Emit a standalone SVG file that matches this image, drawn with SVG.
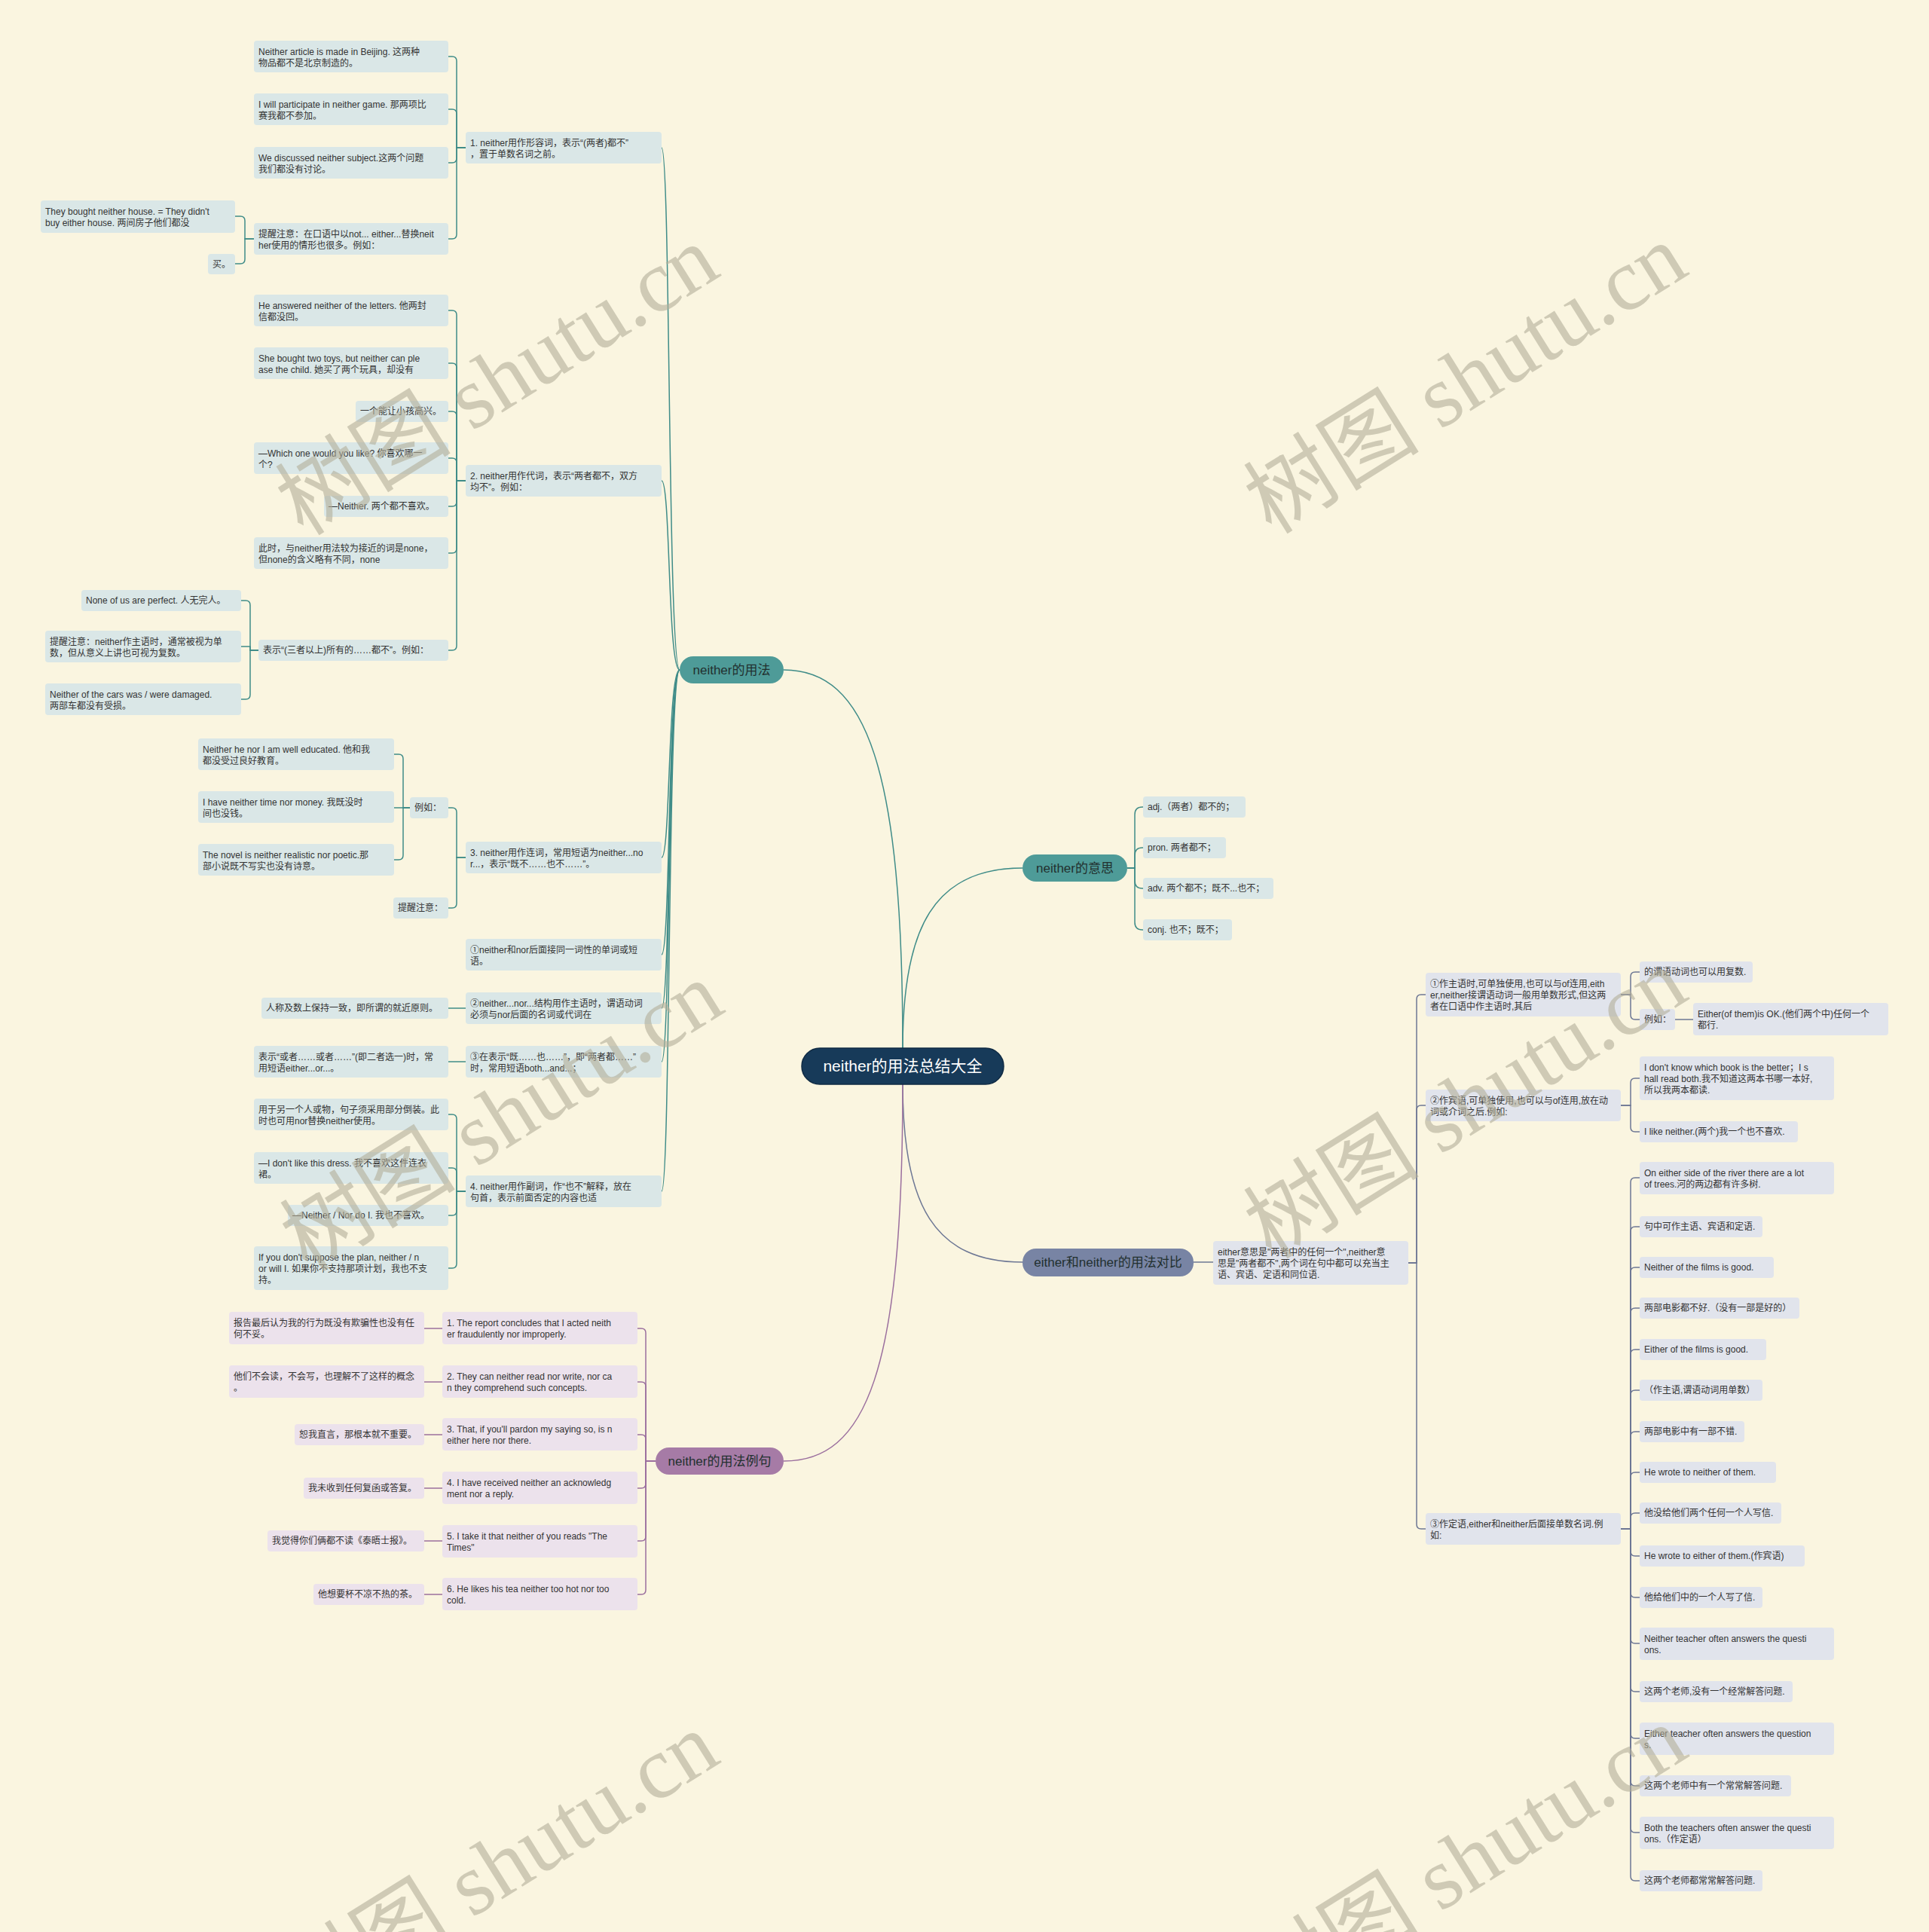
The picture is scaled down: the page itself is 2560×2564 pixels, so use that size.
<svg xmlns="http://www.w3.org/2000/svg" width="2560" height="2564" viewBox="0 0 2560 2564">
<style>
text { font-family: "Liberation Sans", "Noto Sans CJK SC", sans-serif; }
.t { font-size: 12px; fill: #333333; }
.bt { font-size: 17px; fill: #22302f; text-anchor: middle; }
.ct { font-size: 21px; fill: #ffffff; text-anchor: middle; }
.lt { fill: #dae7e7; }
.lp { fill: #ece2ec; }
.ls { fill: #e1e4ec; }
.e { fill: none; stroke-width: 1.5; }
.et { stroke: #3f8c88; }
.ep { stroke: #9b6f9e; }
.es { stroke: #6d7794; }
.wm { font-family: "Liberation Serif", "Noto Sans CJK SC", serif; font-size: 117px; fill: #b3af9a; opacity: 0.6; text-anchor: middle; dominant-baseline: central; }
</style>
<rect x="0" y="0" width="2560" height="2564" fill="#faf5e0"/>

<g id="connectors">
<path class="e et" d="M1198 1391 C1198 1020 1150 889 1040 889"/>
<path class="e et" d="M1198 1391 C1198 1230 1240 1152 1357 1152"/>
<path class="e es" d="M1198 1439 C1198 1600 1240 1675 1357 1675"/>
<path class="e ep" d="M1198 1439 C1198 1820 1150 1939 1040 1939"/>

<path class="e et" d="M902 889 C886 889 890 196 878 196"/>
<path class="e et" d="M902 889 C886 889 890 638 878 638"/>
<path class="e et" d="M902 889 C886 889 890 1138 878 1138"/>
<path class="e et" d="M902 889 C886 889 890 1267 878 1267"/>
<path class="e et" d="M902 889 C886 889 890 1338 878 1338"/>
<path class="e et" d="M902 889 C886 889 890 1409 878 1409"/>
<path class="e et" d="M902 889 C886 889 890 1581 878 1581"/>

<path class="e et" d="M618 196 H606 V81 Q606 75 600 75 H595"/>
<path class="e et" d="M618 196 H606 V151 Q606 145 600 145 H595"/>
<path class="e et" d="M618 196 H606 V210 Q606 216 600 216 H595"/>
<path class="e et" d="M618 196 H606 V311 Q606 317 600 317 H595"/>
<path class="e et" d="M337 317 H325 V293 Q325 287 319 287 H312"/>
<path class="e et" d="M337 317 H325 V344 Q325 350 319 350 H312"/>

<path class="e et" d="M618 638 H606 V418 Q606 412 600 412 H595"/>
<path class="e et" d="M618 638 H606 V488 Q606 482 600 482 H595"/>
<path class="e et" d="M618 638 H606 V552 Q606 546 600 546 H595"/>
<path class="e et" d="M618 638 H606 V614 Q606 608 600 608 H595"/>
<path class="e et" d="M618 638 H606 V666 Q606 672 600 672 H595"/>
<path class="e et" d="M618 638 H606 V728 Q606 734 600 734 H595"/>
<path class="e et" d="M618 638 H606 V857 Q606 863 600 863 H595"/>
<path class="e et" d="M343 863 H332 V803 Q332 797 326 797 H320"/>
<path class="e et" d="M343 863 H332 V858 H320"/>
<path class="e et" d="M343 863 H332 V922 Q332 928 326 928 H320"/>

<path class="e et" d="M618 1138 H606 V1078 Q606 1072 600 1072 H595"/>
<path class="e et" d="M618 1138 H606 V1199 Q606 1205 600 1205 H595"/>
<path class="e et" d="M544 1072 H535 V1007 Q535 1001 529 1001 H523"/>
<path class="e et" d="M544 1072 H523"/>
<path class="e et" d="M544 1072 H535 V1135 Q535 1141 529 1141 H523"/>

<path class="e et" d="M618 1338 H595"/>
<path class="e et" d="M618 1409 H595"/>

<path class="e et" d="M618 1581 H606 V1485 Q606 1479 600 1479 H595"/>
<path class="e et" d="M618 1581 H606 V1556 Q606 1550 600 1550 H595"/>
<path class="e et" d="M618 1581 H606 V1607 Q606 1613 600 1613 H595"/>
<path class="e et" d="M618 1581 H606 V1677 Q606 1683 600 1683 H595"/>

<path class="e et" d="M1496 1152 H1506 V1081 Q1506 1071 1516 1071 H1517"/>
<path class="e et" d="M1496 1152 H1506 V1135 Q1506 1125 1516 1125 H1517"/>
<path class="e et" d="M1496 1152 H1506 V1169 Q1506 1179 1516 1179 H1517"/>
<path class="e et" d="M1496 1152 H1506 V1224 Q1506 1234 1516 1234 H1517"/>

<path class="e es" d="M1584 1675 H1610"/>
<path class="e es" d="M1869 1676 H1880 V1326 Q1880 1320 1886 1320 H1892"/>
<path class="e es" d="M1869 1676 H1880 V1473 Q1880 1467 1886 1467 H1892"/>
<path class="e es" d="M1869 1676 H1880 V2023 Q1880 2029 1886 2029 H1892"/>
<path class="e es" d="M2151 1320 H2164 V1296 Q2164 1290 2170 1290 H2176"/>
<path class="e es" d="M2151 1320 H2164 V1347 Q2164 1353 2170 1353 H2176"/>
<path class="e es" d="M2223 1353 H2247"/>
<path class="e es" d="M2151 1467 H2164 V1437 Q2164 1431 2170 1431 H2176"/>
<path class="e es" d="M2151 1467 H2164 V1496 Q2164 1502 2170 1502 H2176"/>
<path class="e es" d="M2151 2029 H2164 V1569 Q2164 1563 2170 1563 H2176"/>
<path class="e es" d="M2151 2029 H2164 V1634 Q2164 1628 2170 1628 H2176"/>
<path class="e es" d="M2151 2029 H2164 V1688 Q2164 1682 2170 1682 H2176"/>
<path class="e es" d="M2151 2029 H2164 V1742 Q2164 1736 2170 1736 H2176"/>
<path class="e es" d="M2151 2029 H2164 V1797 Q2164 1791 2170 1791 H2176"/>
<path class="e es" d="M2151 2029 H2164 V1851 Q2164 1845 2170 1845 H2176"/>
<path class="e es" d="M2151 2029 H2164 V1906 Q2164 1900 2170 1900 H2176"/>
<path class="e es" d="M2151 2029 H2164 V1960 Q2164 1954 2170 1954 H2176"/>
<path class="e es" d="M2151 2029 H2164 V2014 Q2164 2008 2170 2008 H2176"/>
<path class="e es" d="M2151 2029 H2164 V2059 Q2164 2065 2170 2065 H2176"/>
<path class="e es" d="M2151 2029 H2164 V2114 Q2164 2120 2170 2120 H2176"/>
<path class="e es" d="M2151 2029 H2164 V2175 Q2164 2181 2170 2181 H2176"/>
<path class="e es" d="M2151 2029 H2164 V2239 Q2164 2245 2170 2245 H2176"/>
<path class="e es" d="M2151 2029 H2164 V2301 Q2164 2307 2170 2307 H2176"/>
<path class="e es" d="M2151 2029 H2164 V2364 Q2164 2370 2170 2370 H2176"/>
<path class="e es" d="M2151 2029 H2164 V2426 Q2164 2432 2170 2432 H2176"/>
<path class="e es" d="M2151 2029 H2164 V2490 Q2164 2496 2170 2496 H2176"/>

<path class="e ep" d="M870 1939 H857 V1769 Q857 1763 851 1763 H846"/>
<path class="e ep" d="M870 1939 H857 V1840 Q857 1834 851 1834 H846"/>
<path class="e ep" d="M870 1939 H857 V1910 Q857 1904 851 1904 H846"/>
<path class="e ep" d="M870 1939 H857 V1969 Q857 1975 851 1975 H846"/>
<path class="e ep" d="M870 1939 H857 V2039 Q857 2045 851 2045 H846"/>
<path class="e ep" d="M870 1939 H857 V2110 Q857 2116 851 2116 H846"/>
<path class="e ep" d="M587 1763 H563"/>
<path class="e ep" d="M587 1834 H563"/>
<path class="e ep" d="M587 1904 H563"/>
<path class="e ep" d="M587 1975 H563"/>
<path class="e ep" d="M587 2045 H563"/>
<path class="e ep" d="M587 2116 H563"/>
</g>

<g id="root"><rect x="1064" y="1391" width="268" height="48" rx="24" fill="#173a59" stroke="#0f2a43" stroke-width="1.5"/><text class="ct" x="1198" y="1422">neither的用法总结大全</text></g>

<g id="b-usage"><rect x="902" y="871" width="138" height="36" rx="18" fill="#4e9b98"/><text class="bt" x="971" y="895">neither的用法</text></g>
<g id="b-meaning"><rect x="1357" y="1134" width="139" height="36" rx="18" fill="#4e9b98"/><text class="bt" x="1426.5" y="1158">neither的意思</text></g>
<g id="b-compare"><rect x="1357" y="1657" width="227" height="37" rx="18" fill="#7884a4"/><text class="bt" x="1470.5" y="1681">either和neither的用法对比</text></g>
<g id="b-examples"><rect x="870" y="1921" width="170" height="36" rx="18" fill="#a67ba6"/><text class="bt" x="955" y="1945">neither的用法例句</text></g>

<g id="a1"><rect class="lt" x="618" y="175" width="260" height="42" rx="4"/><text class="t" x="624" y="194">1. neither用作形容词，表示“(两者)都不”</text><text class="t" x="624" y="209">，置于单数名词之前。</text></g>
<g id="a1-1"><rect class="lt" x="337" y="54" width="258" height="42" rx="4"/><text class="t" x="343" y="73">Neither article is made in Beijing. 这两种</text><text class="t" x="343" y="88">物品都不是北京制造的。</text></g>
<g id="a1-2"><rect class="lt" x="337" y="124" width="258" height="42" rx="4"/><text class="t" x="343" y="143">I will participate in neither game. 那两项比</text><text class="t" x="343" y="158">赛我都不参加。</text></g>
<g id="a1-3"><rect class="lt" x="337" y="195" width="258" height="42" rx="4"/><text class="t" x="343" y="214">We discussed neither subject.这两个问题</text><text class="t" x="343" y="229">我们都没有讨论。</text></g>
<g id="a1-4"><rect class="lt" x="337" y="296" width="258" height="42" rx="4"/><text class="t" x="343" y="315">提醒注意：在口语中以not... either...替换neit</text><text class="t" x="343" y="330">her使用的情形也很多。例如：</text></g>
<g id="a1-4a"><rect class="lt" x="54" y="266" width="258" height="43" rx="4"/><text class="t" x="60" y="285">They bought neither house. = They didn't</text><text class="t" x="60" y="300"> buy either house. 两间房子他们都没</text></g>
<g id="a1-4b"><rect class="lt" x="276" y="337" width="36" height="27" rx="4"/><text class="t" x="282" y="355">买。</text></g>

<g id="a2"><rect class="lt" x="618" y="617" width="260" height="42" rx="4"/><text class="t" x="624" y="636">2. neither用作代词，表示“两者都不，双方</text><text class="t" x="624" y="651">均不”。例如：</text></g>
<g id="a2-1"><rect class="lt" x="337" y="391" width="258" height="42" rx="4"/><text class="t" x="343" y="410">He answered neither of the letters. 他两封</text><text class="t" x="343" y="425">信都没回。</text></g>
<g id="a2-2"><rect class="lt" x="337" y="461" width="258" height="42" rx="4"/><text class="t" x="343" y="480">She bought two toys, but neither can ple</text><text class="t" x="343" y="495">ase the child. 她买了两个玩具，却没有</text></g>
<g id="a2-3"><rect class="lt" x="472" y="532" width="123" height="28" rx="4"/><text class="t" x="478" y="550">一个能让小孩高兴。</text></g>
<g id="a2-4"><rect class="lt" x="337" y="587" width="258" height="42" rx="4"/><text class="t" x="343" y="606">—Which one would you like? 你喜欢哪一</text><text class="t" x="343" y="621">个?</text></g>
<g id="a2-5"><rect class="lt" x="430" y="658" width="165" height="28" rx="4"/><text class="t" x="436" y="676">—Neither. 两个都不喜欢。</text></g>
<g id="a2-6"><rect class="lt" x="337" y="713" width="258" height="42" rx="4"/><text class="t" x="343" y="732">此时，与neither用法较为接近的词是none，</text><text class="t" x="343" y="747">但none的含义略有不同，none</text></g>
<g id="a2-7"><rect class="lt" x="343" y="849" width="252" height="28" rx="4"/><text class="t" x="349" y="867">表示“(三者以上)所有的……都不”。例如：</text></g>
<g id="a2-7a"><rect class="lt" x="108" y="783" width="212" height="28" rx="4"/><text class="t" x="114" y="801">None of us are perfect. 人无完人。</text></g>
<g id="a2-7b"><rect class="lt" x="60" y="837" width="260" height="42" rx="4"/><text class="t" x="66" y="856">提醒注意：neither作主语时，通常被视为单</text><text class="t" x="66" y="871">数，但从意义上讲也可视为复数。</text></g>
<g id="a2-7c"><rect class="lt" x="60" y="907" width="260" height="42" rx="4"/><text class="t" x="66" y="926">Neither of the cars was / were damaged.</text><text class="t" x="66" y="941">两部车都没有受损。</text></g>

<g id="a3"><rect class="lt" x="618" y="1117" width="260" height="42" rx="4"/><text class="t" x="624" y="1136">3. neither用作连词，常用短语为neither...no</text><text class="t" x="624" y="1151">r...，表示“既不……也不……”。</text></g>
<g id="a3-1"><rect class="lt" x="544" y="1058" width="51" height="28" rx="4"/><text class="t" x="550" y="1076">例如：</text></g>
<g id="a3-1a"><rect class="lt" x="263" y="980" width="260" height="42" rx="4"/><text class="t" x="269" y="999">Neither he nor I am well educated. 他和我</text><text class="t" x="269" y="1014">都没受过良好教育。</text></g>
<g id="a3-1b"><rect class="lt" x="263" y="1050" width="260" height="42" rx="4"/><text class="t" x="269" y="1069">I have neither time nor money. 我既没时</text><text class="t" x="269" y="1084">间也没钱。</text></g>
<g id="a3-1c"><rect class="lt" x="263" y="1120" width="260" height="42" rx="4"/><text class="t" x="269" y="1139">The novel is neither realistic nor poetic.那</text><text class="t" x="269" y="1154">部小说既不写实也没有诗意。</text></g>
<g id="a3-2"><rect class="lt" x="522" y="1191" width="73" height="28" rx="4"/><text class="t" x="528" y="1209">提醒注意：</text></g>

<g id="a4"><rect class="lt" x="618" y="1246" width="260" height="42" rx="4"/><text class="t" x="624" y="1265">①neither和nor后面接同一词性的单词或短</text><text class="t" x="624" y="1280">语。</text></g>
<g id="a5"><rect class="lt" x="618" y="1317" width="260" height="42" rx="4"/><text class="t" x="624" y="1336">②neither...nor...结构用作主语时，谓语动词</text><text class="t" x="624" y="1351">必须与nor后面的名词或代词在</text></g>
<g id="a5-1"><rect class="lt" x="347" y="1324" width="248" height="28" rx="4"/><text class="t" x="353" y="1342">人称及数上保持一致，即所谓的就近原则。</text></g>
<g id="a6"><rect class="lt" x="618" y="1388" width="260" height="42" rx="4"/><text class="t" x="624" y="1407">③在表示“既……也……”，即“两者都……”</text><text class="t" x="624" y="1422">时，常用短语both...and...；</text></g>
<g id="a6-1"><rect class="lt" x="337" y="1388" width="258" height="42" rx="4"/><text class="t" x="343" y="1407">表示“或者……或者……”(即二者选一)时，常</text><text class="t" x="343" y="1422">用短语either...or...。</text></g>

<g id="a7"><rect class="lt" x="618" y="1560" width="260" height="42" rx="4"/><text class="t" x="624" y="1579">4. neither用作副词，作“也不”解释，放在</text><text class="t" x="624" y="1594">句首，表示前面否定的内容也适</text></g>
<g id="a7-1"><rect class="lt" x="337" y="1458" width="258" height="42" rx="4"/><text class="t" x="343" y="1477">用于另一个人或物，句子须采用部分倒装。此</text><text class="t" x="343" y="1492">时也可用nor替换neither使用。</text></g>
<g id="a7-2"><rect class="lt" x="337" y="1529" width="258" height="42" rx="4"/><text class="t" x="343" y="1548">—I don't like this dress. 我不喜欢这件连衣</text><text class="t" x="343" y="1563">裙。</text></g>
<g id="a7-3"><rect class="lt" x="382" y="1599" width="213" height="28" rx="4"/><text class="t" x="388" y="1617">—Neither / Nor do I. 我也不喜欢。</text></g>
<g id="a7-4"><rect class="lt" x="337" y="1654" width="258" height="58" rx="4"/><text class="t" x="343" y="1673">If you don't suppose the plan, neither / n</text><text class="t" x="343" y="1688">or will I. 如果你不支持那项计划，我也不支</text><text class="t" x="343" y="1703">持。</text></g>

<g id="m1"><rect class="lt" x="1517" y="1057" width="136" height="28" rx="4"/><text class="t" x="1523" y="1075">adj.（两者）都不的；</text></g>
<g id="m2"><rect class="lt" x="1517" y="1111" width="110" height="28" rx="4"/><text class="t" x="1523" y="1129">pron. 两者都不；</text></g>
<g id="m3"><rect class="lt" x="1517" y="1165" width="173" height="28" rx="4"/><text class="t" x="1523" y="1183">adv. 两个都不；既不...也不；</text></g>
<g id="m4"><rect class="lt" x="1517" y="1220" width="118" height="28" rx="4"/><text class="t" x="1523" y="1238">conj. 也不；既不；</text></g>

<g id="e0"><rect class="ls" x="1610" y="1647" width="259" height="58" rx="4"/><text class="t" x="1616" y="1666">either意思是"两者中的任何一个",neither意</text><text class="t" x="1616" y="1681">思是"两者都不",两个词在句中都可以充当主</text><text class="t" x="1616" y="1696">语、宾语、定语和同位语.</text></g>
<g id="e1"><rect class="ls" x="1892" y="1291" width="259" height="58" rx="4"/><text class="t" x="1898" y="1310">①作主语时,可单独使用,也可以与of连用,eith</text><text class="t" x="1898" y="1325">er,neither接谓语动词一般用单数形式,但这两</text><text class="t" x="1898" y="1340">者在口语中作主语时,其后</text></g>
<g id="e1-1"><rect class="ls" x="2176" y="1276" width="150" height="28" rx="4"/><text class="t" x="2182" y="1294">的谓语动词也可以用复数.</text></g>
<g id="e1-2"><rect class="ls" x="2176" y="1339" width="47" height="28" rx="4"/><text class="t" x="2182" y="1357">例如：</text></g>
<g id="e1-2a"><rect class="ls" x="2247" y="1331" width="259" height="43" rx="4"/><text class="t" x="2253" y="1350">Either(of them)is OK.(他们两个中)任何一个</text><text class="t" x="2253" y="1365">都行.</text></g>
<g id="e2"><rect class="ls" x="1892" y="1446" width="259" height="42" rx="4"/><text class="t" x="1898" y="1465">②作宾语,可单独使用,也可以与of连用,放在动</text><text class="t" x="1898" y="1480">词或介词之后.例如:</text></g>
<g id="e2-1"><rect class="ls" x="2176" y="1402" width="258" height="58" rx="4"/><text class="t" x="2182" y="1421">I don't know which book is the better；I s</text><text class="t" x="2182" y="1436">hall read both.我不知道这两本书哪一本好,</text><text class="t" x="2182" y="1451">所以我两本都读.</text></g>
<g id="e2-2"><rect class="ls" x="2176" y="1488" width="210" height="28" rx="4"/><text class="t" x="2182" y="1506">I like neither.(两个)我一个也不喜欢.</text></g>
<g id="e3"><rect class="ls" x="1892" y="2008" width="259" height="42" rx="4"/><text class="t" x="1898" y="2027">③作定语,either和neither后面接单数名词.例</text><text class="t" x="1898" y="2042">如:</text></g>
<g id="e3-1"><rect class="ls" x="2176" y="1542" width="258" height="43" rx="4"/><text class="t" x="2182" y="1561">On either side of the river there are a lot</text><text class="t" x="2182" y="1576">of trees.河的两边都有许多树.</text></g>
<g id="e3-2"><rect class="ls" x="2176" y="1614" width="163" height="28" rx="4"/><text class="t" x="2182" y="1632">句中可作主语、宾语和定语.</text></g>
<g id="e3-3"><rect class="ls" x="2176" y="1668" width="178" height="28" rx="4"/><text class="t" x="2182" y="1686">Neither of the films is good.</text></g>
<g id="e3-4"><rect class="ls" x="2176" y="1722" width="212" height="28" rx="4"/><text class="t" x="2182" y="1740">两部电影都不好.（没有一部是好的）</text></g>
<g id="e3-5"><rect class="ls" x="2176" y="1777" width="168" height="28" rx="4"/><text class="t" x="2182" y="1795">Either of the films is good.</text></g>
<g id="e3-6"><rect class="ls" x="2176" y="1831" width="163" height="28" rx="4"/><text class="t" x="2182" y="1849">（作主语,谓语动词用单数）</text></g>
<g id="e3-7"><rect class="ls" x="2176" y="1886" width="139" height="28" rx="4"/><text class="t" x="2182" y="1904">两部电影中有一部不错.</text></g>
<g id="e3-8"><rect class="ls" x="2176" y="1940" width="181" height="28" rx="4"/><text class="t" x="2182" y="1958">He wrote to neither of them.</text></g>
<g id="e3-9"><rect class="ls" x="2176" y="1994" width="188" height="28" rx="4"/><text class="t" x="2182" y="2012">他没给他们两个任何一个人写信.</text></g>
<g id="e3-10"><rect class="ls" x="2176" y="2051" width="219" height="28" rx="4"/><text class="t" x="2182" y="2069">He wrote to either of them.(作宾语)</text></g>
<g id="e3-11"><rect class="ls" x="2176" y="2106" width="163" height="28" rx="4"/><text class="t" x="2182" y="2124">他给他们中的一个人写了信.</text></g>
<g id="e3-12"><rect class="ls" x="2176" y="2160" width="258" height="43" rx="4"/><text class="t" x="2182" y="2179">Neither teacher often answers the questi</text><text class="t" x="2182" y="2194">ons.</text></g>
<g id="e3-13"><rect class="ls" x="2176" y="2231" width="203" height="28" rx="4"/><text class="t" x="2182" y="2249">这两个老师,没有一个经常解答问题.</text></g>
<g id="e3-14"><rect class="ls" x="2176" y="2286" width="258" height="43" rx="4"/><text class="t" x="2182" y="2305">Either teacher often answers the question</text><text class="t" x="2182" y="2320">s.</text></g>
<g id="e3-15"><rect class="ls" x="2176" y="2356" width="201" height="28" rx="4"/><text class="t" x="2182" y="2374">这两个老师中有一个常常解答问题.</text></g>
<g id="e3-16"><rect class="ls" x="2176" y="2411" width="258" height="43" rx="4"/><text class="t" x="2182" y="2430">Both the teachers often answer the questi</text><text class="t" x="2182" y="2445">ons.（作定语）</text></g>
<g id="e3-17"><rect class="ls" x="2176" y="2482" width="163" height="28" rx="4"/><text class="t" x="2182" y="2500">这两个老师都常常解答问题.</text></g>

<g id="c1"><rect class="lp" x="587" y="1741" width="259" height="43" rx="4"/><text class="t" x="593" y="1760">1. The report concludes that I acted neith</text><text class="t" x="593" y="1775">er fraudulently nor improperly.</text></g>
<g id="c1-1"><rect class="lp" x="304" y="1741" width="259" height="43" rx="4"/><text class="t" x="310" y="1760">报告最后认为我的行为既没有欺骗性也没有任</text><text class="t" x="310" y="1775">何不妥。</text></g>
<g id="c2"><rect class="lp" x="587" y="1812" width="259" height="43" rx="4"/><text class="t" x="593" y="1831">2. They can neither read nor write, nor ca</text><text class="t" x="593" y="1846">n they comprehend such concepts.</text></g>
<g id="c2-1"><rect class="lp" x="304" y="1812" width="259" height="43" rx="4"/><text class="t" x="310" y="1831">他们不会读，不会写，也理解不了这样的概念</text><text class="t" x="310" y="1846">。</text></g>
<g id="c3"><rect class="lp" x="587" y="1882" width="259" height="43" rx="4"/><text class="t" x="593" y="1901">3. That, if you'll pardon my saying so, is n</text><text class="t" x="593" y="1916">either here nor there.</text></g>
<g id="c3-1"><rect class="lp" x="391" y="1890" width="172" height="28" rx="4"/><text class="t" x="397" y="1908">恕我直言，那根本就不重要。</text></g>
<g id="c4"><rect class="lp" x="587" y="1953" width="259" height="43" rx="4"/><text class="t" x="593" y="1972">4. I have received neither an acknowledg</text><text class="t" x="593" y="1987">ment nor a reply.</text></g>
<g id="c4-1"><rect class="lp" x="403" y="1961" width="160" height="28" rx="4"/><text class="t" x="409" y="1979">我未收到任何复函或答复。</text></g>
<g id="c5"><rect class="lp" x="587" y="2024" width="259" height="43" rx="4"/><text class="t" x="593" y="2043">5. I take it that neither of you reads "The</text><text class="t" x="593" y="2058">Times"</text></g>
<g id="c5-1"><rect class="lp" x="355" y="2031" width="208" height="28" rx="4"/><text class="t" x="361" y="2049">我觉得你们俩都不读《泰晤士报》。</text></g>
<g id="c6"><rect class="lp" x="587" y="2094" width="259" height="43" rx="4"/><text class="t" x="593" y="2113">6. He likes his tea neither too hot nor too</text><text class="t" x="593" y="2128"> cold.</text></g>
<g id="c6-1"><rect class="lp" x="416" y="2102" width="147" height="28" rx="4"/><text class="t" x="422" y="2120">他想要杯不凉不热的茶。</text></g>

<g id="watermark">
<text class="wm" x="660" y="505" transform="rotate(-32 660 505)">树图 shutu.cn</text>
<text class="wm" x="1945" y="503" transform="rotate(-32 1945 503)">树图 shutu.cn</text>
<text class="wm" x="666" y="1482" transform="rotate(-32 666 1482)">树图 shutu.cn</text>
<text class="wm" x="1945" y="1465" transform="rotate(-32 1945 1465)">树图 shutu.cn</text>
<text class="wm" x="660" y="2478" transform="rotate(-32 660 2478)">树图 shutu.cn</text>
<text class="wm" x="1945" y="2470" transform="rotate(-32 1945 2470)">树图 shutu.cn</text>
</g>
</svg>
